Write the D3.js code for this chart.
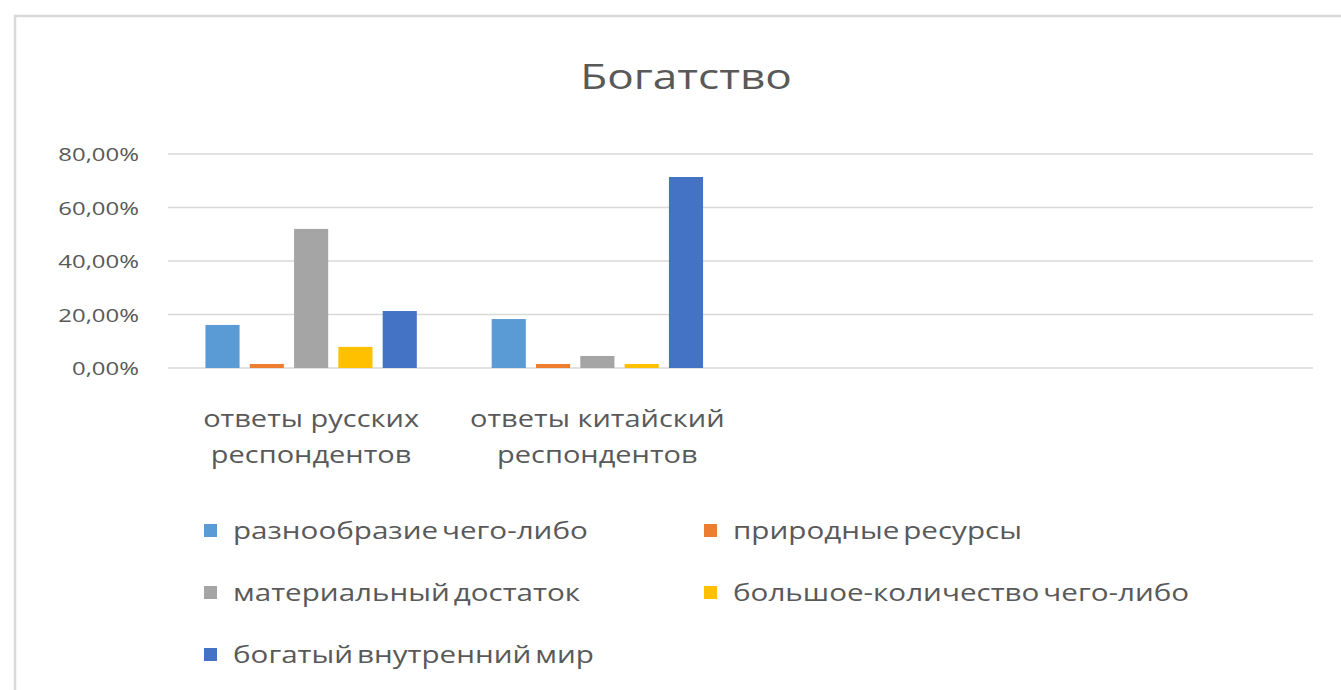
<!DOCTYPE html>
<html>
<head>
<meta charset="utf-8">
<script src="https://cdn.jsdelivr.net/npm/d3@7"></script>
<style>
  body { margin: 0; background: #fff; }
  #chart { width: 1341px; height: 690px; }
  text { font-family: "Open Sans", "Noto Sans", sans-serif; fill: #595959; }
</style>
</head>
<body>
<div id="chart"></div>
<script>
// Chart data
const title = "Богатство";
const categories = ["ответы русских респондентов", "ответы китайский респондентов", "", ""];
const categoryLines = [["ответы русских", "респондентов"], ["ответы китайский", "респондентов"], [], []];
const seriesNames = ["разнообразие чего-либо", "природные ресурсы", "материальный достаток", "большое-количество чего-либо", "богатый внутренний мир"];
const seriesColors = ["#5B9BD5", "#ED7D31", "#A5A5A5", "#FFC000", "#4472C4"];
const diversity = [16.1, 18.3];
const resources = [1.5, 1.5];
const material = [52.0, 4.5];
const quantity = [7.9, 1.5];
const innerWorld = [21.3, 71.4];
const yTicks = [0, 20, 40, 60, 80];

const seriesValues = [diversity, resources, material, quantity, innerWorld];

// Dimensions
const W = 1341, H = 690;
const plot = { left: 168, right: 1313, top: 154, bottom: 368 };
const stretch = 1.26; // text in the picture is a bit wider than Open Sans

const svg = d3.select("#chart")
  .append("svg")
  .attr("width", W)
  .attr("height", H);

// Outer chart frame (runs off right and bottom edges)
svg.append("rect")
  .attr("x", 15).attr("y", 16)
  .attr("width", W + 20).attr("height", H + 20)
  .attr("fill", "#fff")
  .attr("stroke", "#d9d9d9")
  .attr("stroke-width", 2.5);

// helper for placing stretched text
function label(g, x, y, str, size, anchor) {
  return g.append("text")
    .attr("transform", `translate(${x},${y}) scale(${stretch},1)`)
    .attr("text-anchor", anchor || "start")
    .style("font-size", size + "px")
    .text(str);
}

// Title
label(svg, 686, 89, title, 35, "middle");

// Scales
const x0 = d3.scaleBand()
  .domain(d3.range(categories.length))
  .range([plot.left, plot.right])
  .padding(0);

const x1 = d3.scaleBand()
  .domain(d3.range(seriesNames.length))
  .range([0, x0.bandwidth()])
  .paddingInner(0.23)
  .paddingOuter(0.845);

const y = d3.scaleLinear()
  .domain([0, 80])
  .range([plot.bottom, plot.top]);

// Gridlines
svg.append("g")
  .selectAll("line")
  .data(yTicks)
  .enter()
  .append("line")
    .attr("x1", plot.left).attr("x2", plot.right)
    .attr("y1", d => y(d)).attr("y2", d => y(d))
    .attr("stroke", "#d9d9d9")
    .attr("stroke-width", 1.5);

// Y axis labels
const fmt = d => d3.format(".2f")(d).replace(".", ",") + "%";
const yLab = svg.append("g");
yTicks.forEach(t => {
  label(yLab, 139, y(t) + 7, fmt(t), 19, "end");
});

// Bars
const barData = [];
seriesValues.forEach((vals, s) => {
  vals.forEach((v, c) => barData.push({ s, c, v }));
});

svg.append("g")
  .selectAll("rect")
  .data(barData)
  .enter()
  .append("rect")
    .attr("x", d => x0(d.c) + x1(d.s))
    .attr("y", d => y(d.v))
    .attr("width", x1.bandwidth())
    .attr("height", d => y(0) - y(d.v))
    .attr("fill", d => seriesColors[d.s]);

// Category labels
const catG = svg.append("g");
categoryLines.forEach((lines, i) => {
  lines.forEach((line, j) => {
    label(catG, x0(i) + x0.bandwidth() / 2, 427 + j * 36, line, 23, "middle");
  });
});

// Legend
const legendPos = [[204, 531], [704, 531], [204, 593], [704, 593], [204, 655]];
const legend = svg.append("g");
seriesNames.forEach((name, i) => {
  const [lx, ly] = legendPos[i];
  legend.append("rect")
    .attr("x", lx).attr("y", ly - 7)
    .attr("width", 13).attr("height", 13)
    .attr("fill", seriesColors[i]);
  label(legend, lx + 29, ly + 8, name, 23.5)
    .style("word-spacing", "-3px");
});
</script>
</body>
</html>
